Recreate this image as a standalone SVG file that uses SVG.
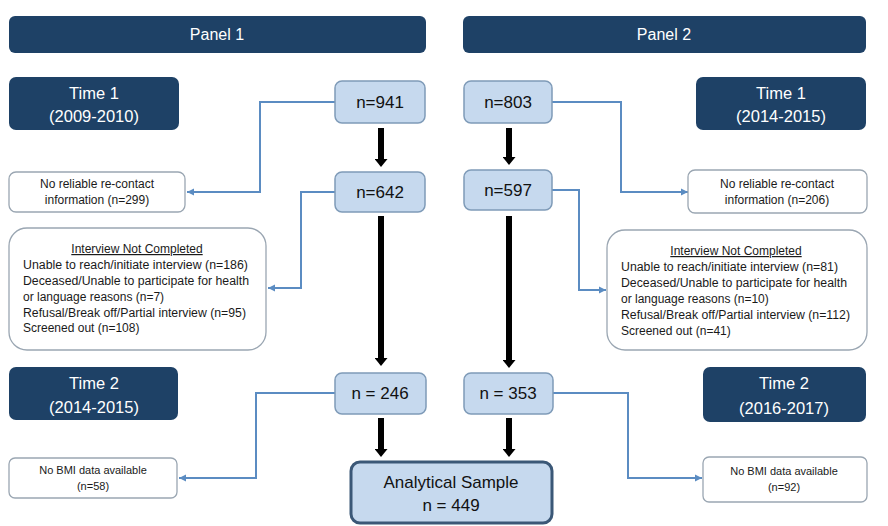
<svg xmlns="http://www.w3.org/2000/svg" width="888" height="526" viewBox="0 0 888 526">
<style>
.hdr{fill:#1e4166;}
.hdrt{fill:#ffffff;font-family:"Liberation Sans",Arial,sans-serif;font-size:16px;text-anchor:middle;}
.tt{fill:#ffffff;font-family:"Liberation Sans",Arial,sans-serif;font-size:16.5px;text-anchor:middle;}
.nb{fill:#c6d9ee;stroke:#7f9bb8;stroke-width:1.5;}
.nt{fill:#111;font-family:"Liberation Sans",Arial,sans-serif;font-size:17px;text-anchor:middle;}
.wb{fill:#ffffff;stroke:#9aa6b2;stroke-width:1.3;}
.st{fill:#1a1a1a;font-family:"Liberation Sans",Arial,sans-serif;font-size:12px;text-anchor:middle;}
.dt{fill:#1a1a1a;font-family:"Liberation Sans",Arial,sans-serif;font-size:12px;}
.ut{fill:#1a1a1a;font-family:"Liberation Sans",Arial,sans-serif;font-size:12px;text-anchor:middle;text-decoration:underline;}
.bt{fill:#1a1a1a;font-family:"Liberation Sans",Arial,sans-serif;font-size:11px;text-anchor:middle;}
.blue{fill:none;stroke:#5b8cc2;stroke-width:2;marker-end:url(#ba);}
.blk{fill:none;stroke:#000;stroke-width:6;marker-end:url(#ka);}
</style>
<defs>
<marker id="ba" markerUnits="userSpaceOnUse" markerWidth="8" markerHeight="8" refX="7" refY="4" orient="auto"><path d="M0,0.5 L7,4 L0,7.5 z" fill="#5b8cc2"/></marker>
<marker id="ka" markerUnits="userSpaceOnUse" markerWidth="13" markerHeight="13" refX="0" refY="6.5" orient="auto"><path d="M0,0 L8,6.5 L0,13 z" fill="#000"/></marker>
</defs>
<rect width="888" height="526" fill="#ffffff"/>

<g id="connectors">
<path class="blue" d="M335,102 H260 V192 H187"/>
<path class="blue" d="M552,102 H621 V192 H688"/>
<path class="blue" d="M335,192 H301 V288 H268"/>
<path class="blue" d="M552,190 H579 V290 H606"/>
<path class="blue" d="M335,393 H256 V478 H179"/>
<path class="blue" d="M552,393 H628 V478 H702"/>
<path class="blk" d="M381,128 V159"/>
<path class="blk" d="M381,216 V358"/>
<path class="blk" d="M381,418 V449"/>
<path class="blk" d="M509,128 V157"/>
<path class="blk" d="M509,216 V360"/>
<path class="blk" d="M509,418 V449"/>
</g>

<g id="panel1"><rect class="hdr" x="9" y="16" width="417" height="37" rx="6"/><text class="hdrt" x="217" y="40">Panel 1</text></g>
<g id="panel2"><rect class="hdr" x="463" y="16" width="403" height="37" rx="6"/><text class="hdrt" x="664" y="40">Panel 2</text></g>

<g id="time1left"><rect class="hdr" x="9" y="77" width="170" height="53" rx="7"/><text class="tt" x="94" y="99">Time 1</text><text class="tt" x="94" y="122">(2009-2010)</text></g>
<g id="time1right"><rect class="hdr" x="696" y="77" width="170" height="53" rx="7"/><text class="tt" x="781" y="99">Time 1</text><text class="tt" x="781" y="122">(2014-2015)</text></g>
<g id="time2left"><rect class="hdr" x="9" y="367" width="169" height="53" rx="7"/><text class="tt" x="94" y="389">Time 2</text><text class="tt" x="94" y="413">(2014-2015)</text></g>
<g id="time2right"><rect class="hdr" x="703" y="367" width="163" height="55" rx="7"/><text class="tt" x="784" y="389">Time 2</text><text class="tt" x="784" y="414">(2016-2017)</text></g>

<g id="n941"><rect class="nb" x="335" y="81" width="90" height="42" rx="7"/><text class="nt" x="380" y="108">n=941</text></g>
<g id="n803"><rect class="nb" x="464" y="81" width="88" height="42" rx="7"/><text class="nt" x="508" y="108">n=803</text></g>
<g id="n642"><rect class="nb" x="335" y="172" width="90" height="40" rx="7"/><text class="nt" x="380" y="198">n=642</text></g>
<g id="n597"><rect class="nb" x="464" y="170" width="88" height="40" rx="7"/><text class="nt" x="508" y="196">n=597</text></g>
<g id="n246"><rect class="nb" x="335" y="373" width="91" height="41" rx="7"/><text class="nt" x="380" y="399">n = 246</text></g>
<g id="n353"><rect class="nb" x="464" y="373" width="89" height="41" rx="7"/><text class="nt" x="508" y="399">n = 353</text></g>

<g id="analytical"><rect x="351" y="462" width="201" height="61" rx="9" fill="#c6d9ee" stroke="#3b5877" stroke-width="3"/><text class="nt" x="451" y="488">Analytical Sample</text><text class="nt" x="451" y="511">n = 449</text></g>

<g id="norecontact1"><rect class="wb" x="9" y="172" width="176" height="40" rx="7"/><text class="st" x="97" y="188">No reliable re-contact</text><text class="st" x="97" y="204">information (n=299)</text></g>
<g id="norecontact2"><rect class="wb" x="688" y="170" width="179" height="43" rx="7"/><text class="st" x="777" y="188">No reliable re-contact</text><text class="st" x="777" y="204">information (n=206)</text></g>

<g id="interview1"><rect class="wb" x="9" y="228" width="257" height="122" rx="18"/>
<text class="ut" x="137" y="253">Interview Not Completed</text>
<text class="dt" x="23" y="269" textLength="225" lengthAdjust="spacingAndGlyphs">Unable to reach/initiate interview (n=186)</text>
<text class="dt" x="23" y="285" textLength="226" lengthAdjust="spacingAndGlyphs">Deceased/Unable to participate for health</text>
<text class="dt" x="23" y="301">or language reasons (n=7)</text>
<text class="dt" x="23" y="317" textLength="223" lengthAdjust="spacingAndGlyphs">Refusal/Break off/Partial interview (n=95)</text>
<text class="dt" x="23" y="332">Screened out (n=108)</text>
</g>
<g id="interview2"><rect class="wb" x="607" y="230" width="260" height="120" rx="18"/>
<text class="ut" x="736" y="255">Interview Not Completed</text>
<text class="dt" x="621" y="271" textLength="217" lengthAdjust="spacingAndGlyphs">Unable to reach/initiate interview (n=81)</text>
<text class="dt" x="621" y="287" textLength="226" lengthAdjust="spacingAndGlyphs">Deceased/Unable to participate for health</text>
<text class="dt" x="621" y="303">or language reasons (n=10)</text>
<text class="dt" x="621" y="319" textLength="229" lengthAdjust="spacingAndGlyphs">Refusal/Break off/Partial interview (n=112)</text>
<text class="dt" x="621" y="335">Screened out (n=41)</text>
</g>

<g id="nobmi1"><rect class="wb" x="9" y="458" width="168" height="40" rx="6"/><text class="bt" x="93" y="474">No BMI data available</text><text class="bt" x="93" y="490">(n=58)</text></g>
<g id="nobmi2"><rect class="wb" x="703" y="457" width="164" height="45" rx="6"/><text class="bt" x="784" y="475">No BMI data available</text><text class="bt" x="784" y="491">(n=92)</text></g>
</svg>
